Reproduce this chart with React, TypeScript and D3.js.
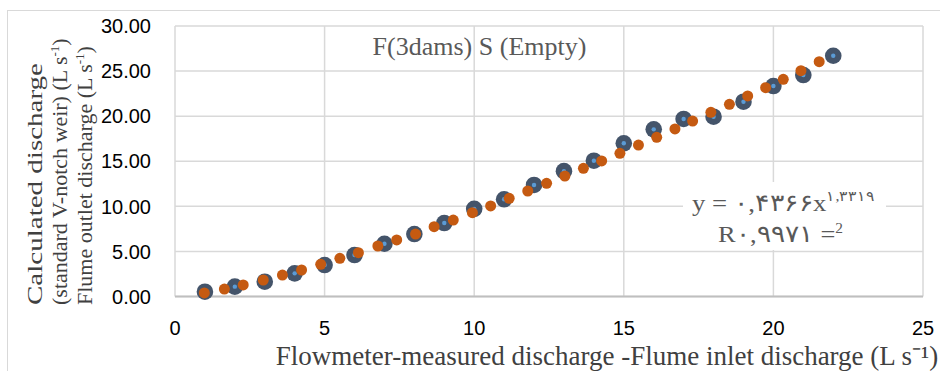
import React from 'react';
import * as d3 from 'd3';

// blue series: V-notch weir, measured at integer flows
const blueX = [1, 2, 3, 4, 5, 6, 7, 8, 9, 10, 11, 12, 13, 14, 15, 16, 17, 18, 19, 20, 21, 22];
const blueY = [0.53, 1.09, 1.64, 2.57, 3.49, 4.6, 5.85, 6.93, 8.15, 9.72, 10.78, 12.37, 13.9, 15.06, 16.99, 18.54, 19.69, 19.94, 21.6, 23.34, 24.56, 26.7];

// orange series: flume outlet
const orangeX = [0.98, 1.65, 2.28, 2.95, 3.59, 4.23, 4.87, 5.51, 6.13, 6.78, 7.41, 8.04, 8.66, 9.3, 9.94, 10.55, 11.17, 11.79, 12.42,
  13.03, 13.65, 14.26, 14.87, 15.49, 16.1, 16.71, 17.3, 17.91, 18.53, 19.14, 19.74, 20.33, 20.92, 21.53];
const orangeY = [0.4, 0.83, 1.28, 1.83, 2.38, 2.94, 3.57, 4.24, 4.86, 5.6, 6.27, 6.93, 7.74, 8.48, 9.3, 10.04, 10.89, 11.7, 12.55,
  13.36, 14.21, 15.03, 15.88, 16.8, 17.65, 18.58, 19.46, 20.43, 21.31, 22.24, 23.16, 24.09, 25.04, 26.04];

const xTicks = [0, 5, 10, 15, 20, 25];
const yTicks = [0, 5, 10, 15, 20, 25, 30];

const title = 'F(3dams) S (Empty)';
const xTitle = 'Flowmeter-measured discharge -Flume inlet discharge (L s\u207B\u00B9)';
const eqMain = 'y = \u0660,\u06F4\u0663\u06F6\u06F6x';
const eqExp = '\u0661,\u0663\u0663\u0661\u0669';
const r2Main = 'R\u0660,\u0669\u0669\u0667\u0661 =';
const r2Exp = '2';

const W = 940, H = 371;
const margin = { top: 26, right: 17, bottom: 74.5, left: 175 };

const serif = '"Liberation Serif", "Times New Roman", serif';
const sans = '"Liberation Sans", Arial, sans-serif';
const grid = '#d9d9d9';

export default function App() {
  const x = d3.scaleLinear().domain([0, 25]).range([margin.left, W - margin.right]);
  const y = d3.scaleLinear().domain([0, 30]).range([H - margin.bottom, margin.top]);

  const bidi: React.CSSProperties = { unicodeBidi: 'bidi-override', direction: 'ltr' };

  return (
    <div style={{ position: 'absolute', left: 0, top: 0 }}>
      <svg width={W} height={H} style={{ display: 'block', background: '#fff' }}>
        <rect x={7.5} y={10.5} width={W} height={H} fill="#fff" stroke={grid} />

        {/* gridlines */}
        {yTicks.map((t) => (
          <line key={'gy' + t} x1={x(0)} x2={x(25)} y1={y(t)} y2={y(t)} stroke={grid} strokeWidth={1.5} />
        ))}
        {xTicks.map((t) => (
          <line key={'gx' + t} x1={x(t)} x2={x(t)} y1={y(0)} y2={y(30)} stroke={grid} strokeWidth={1.5} />
        ))}
        <line x1={x(0)} x2={x(25)} y1={y(0)} y2={y(0)} stroke="#bfbfbf" strokeWidth={2} />

        {/* y tick labels */}
        {yTicks.map((t) => (
          <text key={'ly' + t} x={x(0) - 24} y={y(t)} dy="0.36em" textAnchor="end" fontFamily={sans} fontSize={20} fill="#000">
            {d3.format('.2f')(t)}
          </text>
        ))}
        {/* x tick labels */}
        {xTicks.map((t) => (
          <text key={'lx' + t} x={x(t)} y={335} textAnchor="middle" fontFamily={sans} fontSize={20} fill="#000">
            {t}
          </text>
        ))}

        {/* equation label box */}
        <rect x={683} y={182} width={203} height={68} fill="#fff" />
        <text x={692} y={211} textLength={183} lengthAdjust="spacingAndGlyphs" fontFamily={serif} fontSize={24} fill="#595959" style={bidi}>
          {eqMain}
          <tspan fontSize={14} dy={-10}>{eqExp}</tspan>
        </text>
        <text x={718} y={242} textLength={125} lengthAdjust="spacingAndGlyphs" fontFamily={serif} fontSize={24} fill="#595959" style={bidi}>
          {r2Main}
          <tspan fontSize={14} dy={-9}>{r2Exp}</tspan>
        </text>

        {/* series */}
        {blueX.map((v, i) => (
          <g key={'b' + i}>
            <circle cx={x(v)} cy={y(blueY[i])} r={8.3} fill="#44546A" />
            <circle cx={x(v)} cy={y(blueY[i])} r={2.2} fill="#5B9BD5" />
          </g>
        ))}
        {orangeX.map((v, i) => (
          <circle key={'o' + i} cx={x(v)} cy={y(orangeY[i])} r={5.5} fill="#C55A11" />
        ))}

        {/* title */}
        <text x={479.5} y={55} textAnchor="middle" fontFamily={serif} fontSize={26} fill="#595959">{title}</text>

        {/* axis titles */}
        <text x={607} y={365} textAnchor="middle" fontFamily={serif} fontSize={27} fill="#404040">{xTitle}</text>

        <g fontFamily={serif} fontSize={22} fill="#404040">
          <text transform="translate(42,305) rotate(-90)" textAnchor="start" textLength={242} lengthAdjust="spacingAndGlyphs">Calculated discharge</text>
          <text transform="translate(67,305) rotate(-90)" textAnchor="start">
            (standard V-notch weir) (L s<tspan fontSize={13} dy={-8}>-1</tspan><tspan dy={8}>)</tspan>
          </text>
          <text transform="translate(92,305) rotate(-90)" textAnchor="start">
            Flume outlet discharge (L s<tspan fontSize={13} dy={-8}>-1</tspan><tspan dy={8}>)</tspan>
          </text>
        </g>
      </svg>
    </div>
  );
}
